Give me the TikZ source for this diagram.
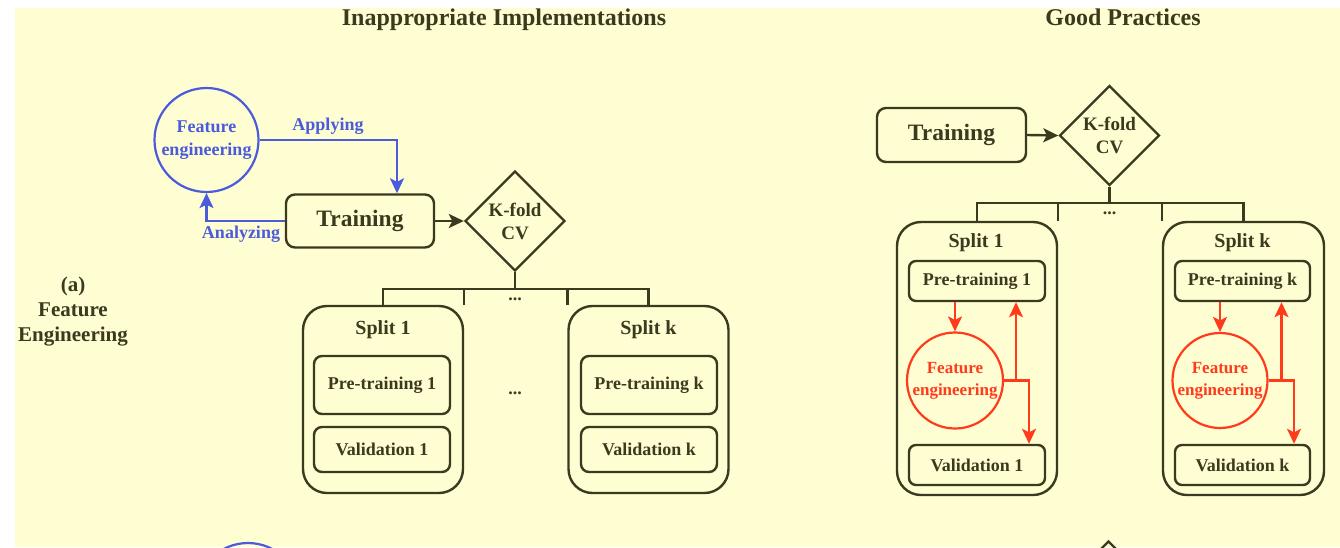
\documentclass[tikz,border=0pt]{standalone}
\usepackage{fontspec}
\setmainfont{Liberation Serif}
\usetikzlibrary{shapes.geometric,arrows.meta}
\definecolor{paper}{HTML}{FFFDD2}
\definecolor{ink}{HTML}{3C3A1E}
\definecolor{fblue}{HTML}{4A5BDB}
\definecolor{fred}{HTML}{FF3B1C}

\begin{document}
\begin{tikzpicture}[x=1pt,y=-1pt,
  ln/.style={draw=ink, line width=2.4pt},
  tip/.style={-{Stealth[length=15pt,width=14pt,inset=3.5pt]}},
  fs/.style={font=\bfseries\fontsize{#1}{#1}\selectfont},
  block/.style={ln, rounded corners=8pt, inner sep=0pt, text=ink, fs=18},
  trainbox/.style={ln, rounded corners=9pt, inner sep=0pt, text=ink, fs=23.5,
    minimum width=148pt, minimum height=53pt},
  splitbox/.style={ln, rounded corners=24pt, inner sep=0pt, minimum width=160pt},
  foldbox/.style={ln, diamond, aspect=1, minimum width=100pt, minimum height=100pt,
    inner sep=0pt, align=center, text=ink,
    font=\bfseries\fontsize{19}{23}\selectfont},
  fecircle/.style={circle, line width=2.2pt, inner sep=0pt, align=center},
  lbl/.style={text=ink, inner sep=0pt},
  bluearrow/.style={draw=fblue, line width=2.2pt, tip},
  redarrow/.style={draw=fred, line width=2.2pt, tip},
]
\useasboundingbox (0,0) rectangle (1340,547);
\fill[white] (0,0) rectangle (1340,547);
\fill[paper] (15,8) rectangle (1340,547);

% headings
\node[lbl, fs=24, anchor=base] (hbad) at (504,25) {Inappropriate Implementations};
\node[lbl, fs=24, anchor=base] (hgood) at (1123,25) {Good Practices};
\node[lbl, align=center, font=\bfseries\fontsize{21}{25}\selectfont] (rowa) at (73,312)
  {(a)\\Feature\\Engineering};

% ---------- left: feature engineering applied to the whole training set ----------
\node[fecircle, draw=fblue, text=fblue, minimum size=104pt,
  font=\bfseries\fontsize{18}{23}\selectfont] (fe1) at (206.5,140)
  {Feature\\engineering};
\node[trainbox] (tr1) at (360,221) {Training};
\node[foldbox] (cv1) at (515,221) {K-fold\\CV};

\draw[bluearrow] (fe1.east) -| ([xshift=37pt]tr1.north);
\draw[bluearrow] (tr1.west) -| (fe1.south);
\node[lbl, text=fblue, fs=18] (apply) at (328,126) {Applying};
\node[lbl, text=fblue, fs=18] (analyze) at (241,234) {Analyzing};
\draw[ln, tip] (tr1.east) -- (cv1.west);

\node[splitbox, minimum height=187pt] (sp1) at (383,399.5) {};
\node[splitbox, minimum height=187pt] (spk) at (648.5,399.5) {};
\node[lbl, fs=20] (sp1t) at (383,330) {Split 1};
\node[lbl, fs=20] (spkt) at (648.5,330) {Split k};
\node[block, minimum width=136pt, minimum height=58pt] (pre1) at (382,385) {Pre-training 1};
\node[block, minimum width=136pt, minimum height=45pt] (val1) at (382,449.5) {Validation 1};
\node[block, minimum width=136pt, minimum height=58pt] (prek) at (649,385) {Pre-training k};
\node[block, minimum width=136pt, minimum height=45pt] (valk) at (649,449.5) {Validation k};

\coordinate (bus1) at (515,289);
\draw[ln] (cv1.south) -- (bus1);
\draw[ln] (sp1.north) -- (sp1.north |- bus1) -- (spk.north |- bus1) -- (spk.north);
\draw[ln] (sp1.north east |- bus1) -- (sp1.north east);
\draw[ln] (spk.north west |- bus1) -- (spk.north west);
\node[lbl, fs=18] (dotsa) at (515,299) {...};
\node[lbl, fs=18] (dotsb) at (515,393) {...};

% ---------- right: feature engineering inside every split ----------
\node[trainbox, minimum width=149pt, minimum height=54pt] (tr2) at (951.5,135) {Training};
\node[foldbox] (cv2) at (1109.5,135.5) {K-fold\\CV};
\draw[ln, tip] (tr2.east) -- (cv2.west);

\node[splitbox, minimum height=273pt] (rs1) at (977,358.5) {};
\node[splitbox, minimum height=273pt, minimum width=161pt] (rsk) at (1243.5,358.5) {};
\node[lbl, fs=20] (rs1t) at (976,243) {Split 1};
\node[lbl, fs=20] (rskt) at (1242.5,243) {Split k};
\node[block, rounded corners=7pt, minimum width=136pt, minimum height=40pt] (rpre1) at (977,281) {Pre-training 1};
\node[block, rounded corners=7pt, minimum width=136pt, minimum height=40pt] (rval1) at (977,465) {Validation 1};
\node[block, rounded corners=7pt, minimum width=135pt, minimum height=40pt] (rprek) at (1242.5,281) {Pre-training k};
\node[block, rounded corners=7pt, minimum width=135pt, minimum height=40pt] (rvalk) at (1242.5,465) {Validation k};

\coordinate (bus2) at (1109.5,203);
\draw[ln] (cv2.south) -- (bus2);
\draw[ln] (rs1.north) -- (rs1.north |- bus2) -- (rsk.north |- bus2) -- (rsk.north);
\draw[ln] (rs1.north east |- bus2) -- (rs1.north east);
\draw[ln] (rsk.north west |- bus2) -- (rsk.north west);
\node[lbl, fs=18] (dotsc) at (1109.5,213) {...};

\node[fecircle, draw=fred, text=fred, minimum size=96pt,
  font=\bfseries\fontsize{17}{22}\selectfont] (rfe1) at (955,380.5)
  {Feature\\engineering};
\node[fecircle, draw=fred, text=fred, minimum size=95pt,
  font=\bfseries\fontsize{17}{22}\selectfont] (rfek) at (1220,380.5)
  {Feature\\engineering};

\draw[redarrow] (rfe1.north |- rpre1.south) -- (rfe1.north);
\draw[redarrow] (rfe1.east) -| ([xshift=52pt]rval1.north);
\draw[redarrow] ([xshift=39pt]rpre1.south |- rfe1.east) -- ([xshift=39pt]rpre1.south);

\draw[redarrow] (rfek.north |- rprek.south) -- (rfek.north);
\draw[redarrow] (rfek.east) -| ([xshift=51.5pt]rvalk.north);
\draw[redarrow] ([xshift=39pt]rprek.south |- rfek.east) -- ([xshift=39pt]rprek.south);

% tops of the next row's shapes, cut by the lower edge
\begin{scope}
  \clip (15,8) rectangle (1340,547);
  \draw[fblue, line width=2.2pt] (248,595) circle (52);
  \draw[ln] (1108.5,541.5) -- (1158.5,591.5) -- (1108.5,641.5) -- (1058.5,591.5) -- cycle;
\end{scope}
\end{tikzpicture}
\end{document}
